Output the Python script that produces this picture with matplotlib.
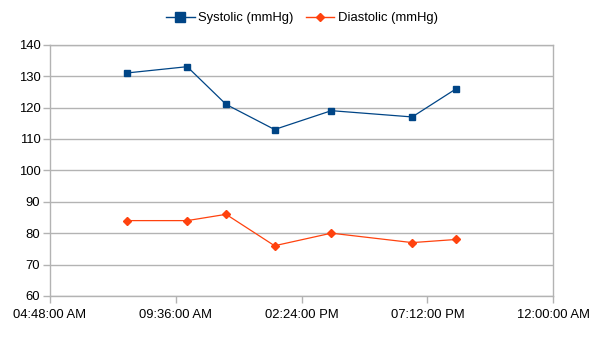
import matplotlib
matplotlib.use("Agg")
import matplotlib.pyplot as plt
from matplotlib.ticker import FixedLocator, FixedFormatter
from matplotlib.lines import Line2D

plt.rcParams['font.family'] = ['Liberation Sans', 'DejaVu Sans']

times = ["07:44", "10:02", "11:31", "13:22", "15:32", "18:37", "20:18"]
systolic = [131, 133, 121, 113, 119, 117, 126]
diastolic = [84, 84, 86, 76, 80, 77, 78]
x_tick_hours = [4.8, 9.6, 14.4, 19.2, 24.0]
x_tick_labels = ["04:48:00 AM", "09:36:00 AM", "02:24:00 PM", "07:12:00 PM", "12:00:00 AM"]
y_ticks = [60, 70, 80, 90, 100, 110, 120, 130, 140]

def to_hours(s):
    h, m = s.split(":")
    return int(h) + int(m) / 60.0

x = [to_hours(t) for t in times]

sys_color = "#004586"
dia_color = "#ff420e"
grid_color = "#b3b3b3"

fig = plt.figure(figsize=(6.05, 3.41), dpi=100)
ax = fig.add_axes([50 / 605, 45 / 341, (553.3 - 50) / 605, (296 - 44.7) / 341])

ax.plot(x, systolic, color=sys_color, linewidth=0.9, marker="s", markersize=5.0,
        label="Systolic (mmHg)", zorder=3)
ax.plot(x, diastolic, color=dia_color, linewidth=0.9, marker="D", markersize=4.0,
        label="Diastolic (mmHg)", zorder=3)

ax.set_xlim(4.8, 24.0)
ax.set_ylim(60, 140)
ax.xaxis.set_major_locator(FixedLocator(x_tick_hours))
ax.xaxis.set_major_formatter(FixedFormatter(x_tick_labels))
ax.set_yticks(y_ticks)

ax.yaxis.grid(True, color=grid_color, linewidth=1.0)
ax.set_axisbelow(True)
for sp in ax.spines.values():
    sp.set_color(grid_color)
    sp.set_linewidth(1.0)

ax.tick_params(axis="both", colors=grid_color, labelcolor="#000000", labelsize=9.4,
               length=5, width=1.0, direction="out")
ax.tick_params(axis="x", pad=4)
ax.tick_params(axis="y", pad=2)

handles = [
    Line2D([], [], color=sys_color, linewidth=1.0, marker="s", markersize=6.5),
    Line2D([], [], color=dia_color, linewidth=1.0, marker="D", markersize=4.5),
]
fig.legend(handles, ["Systolic (mmHg)", "Diastolic (mmHg)"], loc="center",
           bbox_to_anchor=(302 / 605, 1 - 18 / 341), ncol=2, frameon=False,
           fontsize=9.4, handlelength=2.2, handletextpad=0.3, columnspacing=0.9)

fig.savefig("out.png", dpi=100)
